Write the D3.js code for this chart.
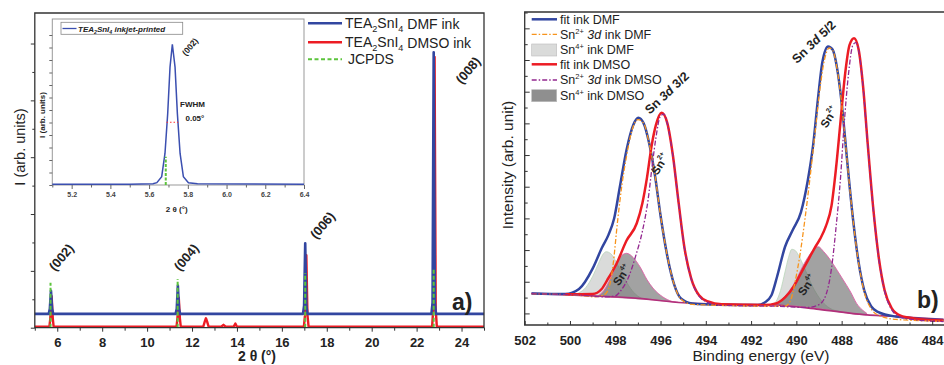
<!DOCTYPE html>
<html><head><meta charset="utf-8">
<script src="https://cdn.jsdelivr.net/npm/d3@7"></script>
<style>body{margin:0;background:#fff}svg{display:block}</style>
</head><body>
<svg id="c" width="944" height="365"></svg>
<script>
// ---------- DATA: panel a (XRD) ----------
const xTicksA = [6, 8, 10, 12, 14, 16, 18, 20, 22, 24];
const dmfA = [[5,4.4],[5.62,4.4],[5.67,6],[5.72,11.7],[5.77,6],[5.82,4.4],[11.27,4.4],[11.32,6],[11.37,13.4],[11.42,6],[11.47,4.4],[16.94,4.4],[16.99,7],[17.04,26.8],[17.09,7],[17.14,4.4],[22.66,4.4],[22.71,8],[22.76,87.5],[22.81,8],[22.86,4.4],[25,4.4]];
const dmsoA = [[5,0.3],[5.65,0.3],[5.69,3],[5.75,10],[5.8,3],[5.84,0.3],[11.31,0.3],[11.35,3],[11.41,9.5],[11.46,3],[11.5,0.3],[12.5,0.3],[12.57,2],[12.62,3],[12.67,2],[12.74,0.3],[13.3,0.3],[13.4,0.9],[13.5,0.3],[13.85,0.3],[13.93,1.3],[14.0,0.3],[16.98,0.3],[17.03,4],[17.09,23],[17.14,4],[17.19,0.3],[22.69,0.3],[22.74,6],[22.8,86],[22.85,6],[22.9,0.3],[25,0.3]];
const jcpdsPos = [5.70, 11.36, 17.04, 22.76];
const jcpdsH = [14.3, 15.5, 17.4, 18.5];
const peakLabelsA = ["(002)", "(004)", "(006)", "(008)"];
// inset
const xTicksI = [5.2, 5.4, 5.6, 5.8, 6.0, 6.2, 6.4];
const insetCurve = [[5.1,0.4],[5.5,0.5],[5.62,0.8],[5.64,1.4],[5.665,5],[5.682,19],[5.696,43],[5.708,71],[5.72,84.8],[5.734,71],[5.746,43],[5.76,19],[5.777,5],[5.803,1.4],[5.85,0.8],[6.4,0.4]];
const insetJcpds = [5.686, 17];
const fwhmSeg = [[5.69, 37.8], [5.75, 37.8]];

// ---------- DATA: panel b (XPS) ----------
const xTicksB = [502, 500, 498, 496, 494, 492, 490, 488, 486, 484];
const bgB = [[501.7,10.1],[499,9.3],[497,8.5],[495,7.1],[493,6.6],[491,6.4],[489,5.0],[487,3.3],[485,2.5],[483.5,1.8]];
const fitDMF = [[501.7,10.1],[500.2,9.9],[499.6,11.5],[499.0,18.0],[498.6,24.5],[498.3,28.8],[498.05,34],[497.8,44],[497.5,56],[497.2,64],[496.98,66.2],[496.75,64.5],[496.5,58],[496.25,48],[496.0,35],[495.7,22],[495.4,13],[495.1,8.5],[494.6,6.9],[493.5,6.5],[491.7,6.4],[491.4,7.2],[491.1,9.5],[490.85,15.5],[490.5,25],[490.15,30.5],[489.8,36],[489.5,46],[489.25,58],[489.05,72],[488.85,84],[488.6,89],[488.4,88],[488.2,82],[488.0,71],[487.75,52],[487.5,34],[487.25,20],[487.0,11],[486.7,6],[486.4,4.2],[485.6,2.7],[483.5,1.6]];
const fitDMSO = [[500.2,9.8],[499.0,9.9],[498.6,11.5],[498.35,14.4],[497.95,19.5],[497.5,27],[497.05,32.5],[496.8,39],[496.6,47],[496.4,57],[496.2,64],[495.95,67.8],[495.7,64.5],[495.45,54],[495.2,39],[494.95,25],[494.65,15],[494.3,9.5],[493.9,7.5],[493.3,6.6],[491.4,6.4],[490.9,6.9],[490.5,8.8],[490.1,12.5],[489.8,16.5],[489.5,20.5],[489.2,24.5],[488.95,27.5],[488.7,31.5],[488.45,38],[488.25,50],[488.05,65],[487.85,80],[487.65,89.5],[487.45,91.6],[487.25,88],[487.05,76],[486.85,58],[486.6,37],[486.35,21],[486.1,11],[485.8,5.5],[485.4,3.0],[484.8,2.1],[483.5,1.4]];
const sn2DMF = [[501.7,10.0],[499.5,9.4],[498.9,9.0],[498.5,9.6],[498.3,11.5],[498.1,19],[497.9,33],[497.7,45],[497.5,54],[497.27,62],[497.0,65.6],[496.75,64.5],[496.5,58],[496.25,48],[496.0,35],[495.7,22],[495.4,13],[495.1,8.3],[494.6,6.6],[493.5,6.3],[491.0,6.0],[490.5,6.0],[490.25,8],[490.05,14],[489.85,22],[489.6,35],[489.35,50],[489.15,63],[488.95,76],[488.75,85],[488.55,88.5],[488.4,87.8],[488.2,81.8],[488.0,70.8],[487.75,51.8],[487.5,33.8],[487.25,19.8],[487.0,10.5],[486.7,5.2],[486.4,3.2],[485.6,1.8],[483.5,1.2]];
const sn2DMSO = [[501.7,10.0],[499.5,9.5],[498.5,9.0],[498.0,9.3],[497.75,11],[497.4,15.5],[497.1,22],[496.8,30],[496.55,40],[496.35,52],[496.2,60],[496.02,66.5],[495.85,67.4],[495.7,64.3],[495.45,53.8],[495.2,38.8],[494.95,24.8],[494.65,14.8],[494.3,9.2],[493.9,7.2],[493.3,6.3],[491.0,6.0],[489.5,5.6],[489.0,6.5],[488.7,9.5],[488.45,18],[488.25,31],[488.05,47],[487.9,63],[487.7,80],[487.5,89.5],[487.38,90.2],[487.25,87.7],[487.05,75.7],[486.85,57.7],[486.6,36.7],[486.35,20.7],[486.1,10.7],[485.8,5],[485.4,2.5],[484.8,1.7],[483.5,1.1]];
// Sn4+ components: [eV, top, bottom]
const sn4DMF_a = [[499.9,9.6,9.6],[499.6,10.3,9.5],[499.3,12,9.4],[499.0,15.5,9.3],[498.75,19.5,9.2],[498.55,22.5,9.1],[498.4,23.4,9.0],[498.2,22.8,8.9],[497.95,20,8.8],[497.7,16.5,8.7],[497.4,12.5,8.5],[497.1,9.8,8.4],[496.8,8.4,8.3]];
const sn4DMF_b = [[491.1,6.4,6.4],[490.9,7.5,6.3],[490.7,11,6.2],[490.5,17,6.1],[490.35,21.5,6.0],[490.2,24.2,6.0],[490.05,23.8,5.9],[489.85,21.5,5.8],[489.6,17.5,5.6],[489.3,12.5,5.3],[489.0,8.8,5.1],[488.7,6.3,4.8],[488.4,4.9,4.5],[488.1,4.3,4.3]];
const sn4DMSO_a = [[498.8,9.1,9.1],[498.5,11,9.0],[498.2,15,8.9],[497.9,20,8.8],[497.7,22.3,8.7],[497.5,22.9,8.6],[497.2,21.5,8.5],[496.9,18.5,8.4],[496.6,14.5,8.2],[496.3,11.5,8.0],[496.0,9.5,7.8],[495.6,7.8,7.5],[495.2,7.2,7.2]];
const sn4DMSO_b = [[491.0,6.4,6.4],[490.6,8.5,6.3],[490.3,11,6.1],[490.0,14.5,6.0],[489.8,17.6,5.8],[489.5,21.5,5.6],[489.25,24,5.4],[489.03,25,5.2],[488.8,23.5,5.0],[488.5,20.8,4.7],[488.2,17.5,4.3],[487.93,14.4,4.0],[487.6,10.5,3.7],[487.34,6.9,3.4],[487.1,4.9,3.3],[486.9,3.8,3.2]];

// ---------- DRAW ----------
const FONT = '"Liberation Sans", Arial, Helvetica, sans-serif';
const C = {blue:"#3246a0", red:"#ec1c24", green:"#5cc43c", orange:"#f7941d", purple:"#93278f", ink:"#222"};
const svg = d3.select("#c").attr("font-family", FONT);

function styleAxis(g, size, bold){
  g.attr("font-family", FONT).attr("font-size", size).attr("font-weight", bold ? "bold" : "normal");
  g.select(".domain").remove();
  g.selectAll("line").attr("stroke", "#333").attr("stroke-width", 1);
  g.selectAll("text").attr("fill", C.ink);
}
function addText(g, x, y, parts, opt){
  const t = g.append("text").attr("x", x).attr("y", y).attr("fill", C.ink)
    .attr("font-size", opt.size).attr("font-weight", opt.bold ? "bold" : "normal");
  if (opt.italic) t.attr("font-style", "italic");
  if (opt.anchor) t.attr("text-anchor", opt.anchor);
  if (opt.rotate !== undefined) t.attr("transform", `rotate(${opt.rotate},${x},${y})`);
  parts.forEach(p => {
    if (typeof p === "string") { t.append("tspan").text(p); return; }
    const s = t.append("tspan").text(p.t);
    if (p.sub) s.attr("font-size", opt.size*0.65).attr("dy", opt.size*0.25);
    if (p.sup) s.attr("font-size", opt.size*0.6).attr("dy", -opt.size*0.4);
    if (p.i) s.attr("font-style", "italic");
    if (p.back) s.attr("dy", p.back);
  });
  return t;
}

// ===== Panel a =====
const xA = d3.scaleLinear().domain([5, 25]).range([34.8, 484]);
const yA = d3.scaleLinear().domain([0, 100]).range([327.7, 13]);
const gA = svg.append("g");
const lineA = d3.line().x(d => xA(d[0])).y(d => yA(d[1]));

gA.append("path").datum(dmsoA).attr("d", lineA).attr("fill","none").attr("stroke",C.red).attr("stroke-width",2.4).attr("stroke-linejoin","round");
gA.append("path").datum(dmfA).attr("d", lineA).attr("fill","none").attr("stroke",C.blue).attr("stroke-width",2.6).attr("stroke-linejoin","round");
gA.selectAll(".jc").data(jcpdsPos).join("line")
  .attr("x1", d => xA(d)).attr("x2", d => xA(d)).attr("y1", yA(0)).attr("y2", (d,i) => yA(jcpdsH[i]))
  .attr("stroke", C.green).attr("stroke-width", 2).attr("stroke-dasharray", "4,2");

// frame
gA.append("path").attr("d", `M${xA(5)},${yA(0)} V${yA(100)} H${xA(25)} V${yA(0)} Z`)
  .attr("fill","none").attr("stroke","#333").attr("stroke-width",1.3);
const axA = gA.append("g").attr("transform", `translate(0,${yA(0)})`)
  .call(d3.axisBottom(xA).tickValues(xTicksA).tickSize(4).tickPadding(6).tickFormat(d3.format("d")));
styleAxis(axA, 13, true);
const axAm = gA.append("g").attr("transform", `translate(0,${yA(0)})`)
  .call(d3.axisBottom(xA).tickValues(d3.range(5, 26, 2)).tickSize(3).tickFormat(""));
styleAxis(axAm, 10, false);
const ayA = gA.append("g").attr("transform", `translate(${xA(5)},0)`)
  .call(d3.axisLeft(yA).tickValues(d3.range(0, 95, 18.06)).tickSize(4).tickFormat(""));
styleAxis(ayA, 10, false);
const ayAm = gA.append("g").attr("transform", `translate(${xA(5)},0)`)
  .call(d3.axisLeft(yA).tickValues(d3.range(9.03, 95, 18.06)).tickSize(2.5).tickFormat(""));
styleAxis(ayAm, 10, false);

addText(gA, 257, 361, ["2 θ (°)"], {size: 14, bold: true, anchor: "middle"});
addText(gA, 25, 147, ["I (arb. units)"], {size: 14.5, anchor: "middle", rotate: -90});

// peak labels
const peakLabelPos = [[xA(5.72)+10, 257], [xA(11.37)+8, 257], [xA(17.04)+17, 225], [xA(22.76)+34, 70]];
peakLabelsA.forEach((s, i) => {
  addText(gA, peakLabelPos[i][0], peakLabelPos[i][1], [s], {size: 13, bold: true, anchor: "middle", rotate: -50})
    .attr("dominant-baseline", "central");
});
addText(gA, 452, 310, ["a)"], {size: 23, bold: true});

// legend a
const legA = [
  {c: C.blue, dash: null, parts: ["TEA", {t:"2", sub:true}, {t:"SnI", back:-3.4}, {t:"4", sub:true}, {t:" DMF ink", back:-3.4}]},
  {c: C.red, dash: null, parts: ["TEA", {t:"2", sub:true}, {t:"SnI", back:-3.4}, {t:"4", sub:true}, {t:" DMSO ink", back:-3.4}]},
  {c: C.green, dash: "4,2.5", parts: ["JCPDS"]}
];
const legAy = [23.3, 42.3, 59.3];
legA.forEach((L, i) => {
  const y = legAy[i];
  const ln = gA.append("line").attr("x1", 308).attr("x2", 342).attr("y1", y).attr("y2", y)
    .attr("stroke", L.c).attr("stroke-width", L.dash ? 2 : 2.5);
  if (L.dash) ln.attr("stroke-dasharray", L.dash);
  addText(gA, i === 2 ? 348 : 345, y + 5, L.parts, {size: 14});
});

// inset
const xI = d3.scaleLinear().domain([5.1, 6.4]).range([52.3, 304]);
const yI = d3.scaleLinear().domain([0, 100]).range([185, 19]);
const gI = svg.append("g");
gI.append("rect").attr("x", xI(5.1)).attr("y", yI(100)).attr("width", xI(6.4)-xI(5.1)).attr("height", yI(0)-yI(100))
  .attr("fill", "#fff").attr("stroke", "#999").attr("stroke-width", 1);
const lineI = d3.line().x(d => xI(d[0])).y(d => yI(d[1]));
gI.append("path").datum(insetCurve).attr("d", lineI).attr("fill","none").attr("stroke","#3b4fb0").attr("stroke-width",1.5);
gI.append("line").attr("x1", xI(insetJcpds[0])).attr("x2", xI(insetJcpds[0])).attr("y1", yI(0)).attr("y2", yI(insetJcpds[1]))
  .attr("stroke", C.green).attr("stroke-width", 2).attr("stroke-dasharray", "3,1.5");
gI.append("path").datum(fwhmSeg).attr("d", lineI).attr("stroke", "#ff3030").attr("stroke-width", 1).attr("stroke-dasharray", "1.5,2");
const axI = gI.append("g").attr("transform", `translate(0,${yI(0)})`)
  .call(d3.axisBottom(xI).tickValues(xTicksI).tickSize(4).tickPadding(3.5).tickFormat(d3.format(".1f")));
styleAxis(axI, 7, true);
axI.selectAll("text").attr("fill", "#444");
const axIm = gI.append("g").attr("transform", `translate(0,${yI(0)})`)
  .call(d3.axisBottom(xI).tickValues(d3.range(5.1, 6.4, 0.2)).tickSize(2.5).tickFormat(""));
styleAxis(axIm, 7, false);
const ayI = gI.append("g").attr("transform", `translate(${xI(5.1)},0)`)
  .call(d3.axisLeft(yI).tickValues(d3.range(0, 92, 7.53)).tickSize(3).tickFormat(""));
styleAxis(ayI, 7, false);
gI.selectAll("line").filter(function(){return this.parentNode.classList.contains("tick");}).attr("stroke","#666");
addText(gI, 176.7, 212, ["2 θ (°)"], {size: 8, bold: true, anchor: "middle"});
addText(gI, 45, 115, ["I (arb. units)"], {size: 8, bold: true, anchor: "middle", rotate: -90});
addText(gI, 190, 46.7, ["(002)"], {size: 8.5, bold: true, anchor: "middle", rotate: -50}).attr("dominant-baseline","central");
addText(gI, 180, 107, ["FWHM"], {size: 8, bold: true});
addText(gI, 185.5, 120.5, ["0.05°"], {size: 8, bold: true});
gI.append("rect").attr("x", 61).attr("y", 22.3).attr("width", 121.7).attr("height", 12).attr("fill","#fff").attr("stroke","#888").attr("stroke-width",0.8);
gI.append("line").attr("x1", 62.5).attr("x2", 76.5).attr("y1", 28.5).attr("y2", 28.5).attr("stroke", "#3b4fb0").attr("stroke-width", 1.3);
addText(gI, 78, 31.5, ["TEA", {t:"2", sub:true}, {t:"SnI", back:-2}, {t:"4", sub:true}, {t:" inkjet-printed", back:-2}], {size: 8, bold: true, italic: true});

// ===== Panel b =====
const xB = d3.scaleLinear().domain([502, 484]).range([524.7, 932.2]);
const yB = d3.scaleLinear().domain([0, 100]).range([325, 12]);
const gB = svg.append("g");
svg.append("defs").append("clipPath").attr("id", "clipB").append("rect")
  .attr("x", xB(502)).attr("y", yB(100)).attr("width", 944 - xB(502)).attr("height", yB(0) - yB(100));
const plotB = gB.append("g").attr("clip-path", "url(#clipB)");
const lineB = d3.line().x(d => xB(d[0])).y(d => yB(d[1])).curve(d3.curveMonotoneX);
const areaB = d3.area().x(d => xB(d[0])).y0(d => yB(d[2])).y1(d => yB(d[1])).curve(d3.curveMonotoneX);

[sn4DMF_a, sn4DMF_b].forEach(a => plotB.append("path").datum(a).attr("d", areaB)
  .attr("fill", "#dadbda").attr("stroke", "#b9d6b9").attr("stroke-width", 0.8));
[sn4DMSO_a, sn4DMSO_b].forEach(a => plotB.append("path").datum(a).attr("d", areaB)
  .attr("fill", "#5a5a5a").attr("fill-opacity", 0.56).attr("stroke", "#e060a8").attr("stroke-width", 0.9));
plotB.append("path").datum(bgB).attr("d", lineB).attr("fill","none").attr("stroke","#b0307a").attr("stroke-width",1.6);
plotB.append("path").datum(fitDMF).attr("d", lineB).attr("fill","none").attr("stroke",C.blue).attr("stroke-width",2.5);
plotB.append("path").datum(fitDMSO).attr("d", lineB).attr("fill","none").attr("stroke",C.red).attr("stroke-width",2.5);
plotB.append("path").datum(sn2DMF).attr("d", lineB).attr("fill","none").attr("stroke",C.orange).attr("stroke-width",1.3).attr("stroke-dasharray","5,2,1.5,2");
plotB.append("path").datum(sn2DMSO).attr("d", lineB).attr("fill","none").attr("stroke",C.purple).attr("stroke-width",1.3).attr("stroke-dasharray","5,2,1.5,2");

gB.append("path").attr("d", `M946,${yB(100)} H${xB(502)} V${yB(0)} H946`)
  .attr("fill","none").attr("stroke","#333").attr("stroke-width",1.3);
const axB = gB.append("g").attr("transform", `translate(0,${yB(0)})`)
  .call(d3.axisBottom(xB).tickValues(xTicksB).tickSize(-4).tickPadding(11).tickFormat(d3.format("d")));
styleAxis(axB, 13, true);
const axBm = gB.append("g").attr("transform", `translate(0,${yB(0)})`)
  .call(d3.axisBottom(xB).tickValues(d3.range(501, 483, -2)).tickSize(-2.5).tickFormat(""));
styleAxis(axBm, 10, false);
const ayB = gB.append("g").attr("transform", `translate(${xB(502)},0)`)
  .call(d3.axisLeft(yB).tickValues(d3.range(3.7, 100, 10.12)).tickSize(-5).tickFormat(""));
styleAxis(ayB, 10, false);
const ayBm = gB.append("g").attr("transform", `translate(${xB(502)},0)`)
  .call(d3.axisLeft(yB).tickValues(d3.range(8.76, 100, 10.12)).tickSize(-3).tickFormat(""));
styleAxis(ayBm, 10, false);

addText(gB, 761, 361, ["Binding energy (eV)"], {size: 15.5, anchor: "middle"});
addText(gB, 513, 165, ["Intensity (arb. unit)"], {size: 15.5, anchor: "middle", rotate: -90});
addText(gB, 917, 308, ["b)"], {size: 23, bold: true});

// annotations
addText(gB, 667, 93, ["Sn ", {t:"3d", i:true}, " 3/2"], {size: 12.5, bold: true, anchor: "middle", rotate: -43}).attr("dominant-baseline","central");
addText(gB, 814, 42, ["Sn ", {t:"3d", i:true}, " 5/2"], {size: 12.5, bold: true, anchor: "middle", rotate: -44}).attr("dominant-baseline","central");
addText(gB, 660, 164, ["Sn", {t:"2+", sup:true}], {size: 11.5, bold: true, anchor: "middle", rotate: -58}).attr("dominant-baseline","central");
addText(gB, 829, 117, ["Sn", {t:"2+", sup:true}], {size: 11.5, bold: true, anchor: "middle", rotate: -58}).attr("dominant-baseline","central");
addText(gB, 622, 275, ["Sn", {t:"4+", sup:true}], {size: 11.5, bold: true, anchor: "middle", rotate: -55}).attr("dominant-baseline","central");
addText(gB, 807, 285, ["Sn", {t:"4+", sup:true}], {size: 11.5, bold: true, anchor: "middle", rotate: -55}).attr("dominant-baseline","central");

// legend b
const legB = [
  {type:"line", c:C.blue, parts:["fit ink DMF"]},
  {type:"dash", c:C.orange, parts:["Sn", {t:"2+", sup:true}, {t:" ", back:4.8}, {t:"3d", i:true}, " ink DMF"]},
  {type:"rect", c:"#dadbda", parts:["Sn", {t:"4+", sup:true}, {t:" ink DMF", back:4.8}]},
  {type:"line", c:C.red, parts:["fit ink DMSO"]},
  {type:"dash", c:C.purple, parts:["Sn", {t:"2+", sup:true}, {t:" ", back:4.8}, {t:"3d", i:true}, " ink DMSO"]},
  {type:"rect", c:"#8f8f8f", parts:["Sn", {t:"4+", sup:true}, {t:" ink DMSO", back:4.8}]}
];
const legBy = [19.3, 34.3, 50, 64.3, 80, 95.7];
legB.forEach((L, i) => {
  const y = legBy[i];
  if (L.type === "rect") {
    gB.append("rect").attr("x", 531.7).attr("y", y - 6).attr("width", 25).attr("height", 12)
      .attr("fill", L.c).attr("stroke", "#bbb").attr("stroke-width", 0.6);
  } else {
    const ln = gB.append("line").attr("x1", 531.7).attr("x2", 557).attr("y1", y).attr("y2", y)
      .attr("stroke", L.c).attr("stroke-width", L.type === "line" ? 2.5 : 1.3);
    if (L.type === "dash") ln.attr("stroke-dasharray", "5,2,1.5,2");
  }
  addText(gB, 560, y + 4.4, L.parts, {size: 12.5});
});
</script>
</body></html>
